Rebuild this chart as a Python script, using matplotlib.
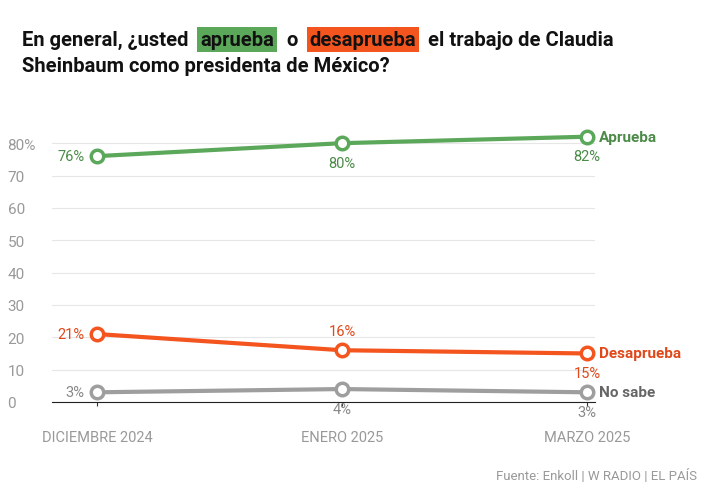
import matplotlib
matplotlib.use("Agg")
import matplotlib.pyplot as plt

cats = ["DICIEMBRE 2024", "ENERO 2025", "MARZO 2025"]
aprueba = [76, 80, 82]
desaprueba = [21, 16, 15]
no_sabe = [3, 4, 3]

GREEN, ORANGE, GRAY = "#5BA85A", "#F4541E", "#9E9E9E"
GREEN_T, ORANGE_T, GRAY_T = "#4B8A47", "#E0481A", "#888888"

plt.rcParams["font.family"] = ["Roboto", "DejaVu Sans"]
fig = plt.figure(figsize=(7.21, 4.89), dpi=100)
ax = fig.add_axes([52/721, 86/489, 543/721, 275/489])
x = range(len(cats))
ax.set_xlim(-0.184, 2.033)
ax.set_ylim(0, 85)

for vals, c in [(aprueba, GREEN), (desaprueba, ORANGE), (no_sabe, GRAY)]:
    ax.plot(x, vals, color=c, lw=3, marker="o", ms=9, mfc="white", mew=2.5, zorder=3, clip_on=False)

ax.set_yticks(range(0, 81, 10))
ax.set_yticklabels([str(v) if v < 80 else "80%" for v in range(0, 81, 10)])
for lab in ax.get_yticklabels():
    lab.set_horizontalalignment("left")
ax.tick_params(axis="y", length=0, pad=32, labelsize=11, labelcolor="#999999")
ax.set_xticks(list(x))
ax.set_xticklabels(cats)
ax.tick_params(axis="x", length=3, color="#333333", pad=17, labelsize=10.5, labelcolor="#999999")
ax.grid(axis="y", color="#e6e6e6", lw=0.8)
ax.set_axisbelow(True)
for s in ["top", "right", "left"]:
    ax.spines[s].set_visible(False)
ax.spines["bottom"].set_color("#222222")

fs = 10.5
def lab(xi, y, t, c, pos):
    if pos == "left":
        ax.annotate(t, (xi, y), xytext=(-9, 0), textcoords="offset points", ha="right", va="center", color=c, fontsize=fs)
    elif pos == "below":
        ax.annotate(t, (xi, y), xytext=(0, -9), textcoords="offset points", ha="center", va="top", color=c, fontsize=fs)
    else:
        ax.annotate(t, (xi, y), xytext=(0, 9), textcoords="offset points", ha="center", va="bottom", color=c, fontsize=fs)

lab(0, aprueba[0], f"{aprueba[0]}%", GREEN_T, "left")
lab(1, aprueba[1], f"{aprueba[1]}%", GREEN_T, "below")
lab(2, aprueba[2], f"{aprueba[2]}%", GREEN_T, "below")
lab(0, desaprueba[0], f"{desaprueba[0]}%", ORANGE_T, "left")
lab(1, desaprueba[1], f"{desaprueba[1]}%", ORANGE_T, "above")
lab(2, desaprueba[2], f"{desaprueba[2]}%", ORANGE_T, "below")
lab(0, no_sabe[0], f"{no_sabe[0]}%", GRAY_T, "left")
lab(1, no_sabe[1], f"{no_sabe[1]}%", GRAY_T, "below")
lab(2, no_sabe[2], f"{no_sabe[2]}%", GRAY_T, "below")

for vals, t, c in [(aprueba, "Aprueba", GREEN_T), (desaprueba, "Desaprueba", ORANGE_T), (no_sabe, "No sabe", "#666666")]:
    ax.annotate(t, (2, vals[-1]), xytext=(9, 0), textcoords="offset points", ha="left", va="center",
                color=c, fontsize=11, fontweight="bold", annotation_clip=False)

# title with highlighted words
fig.canvas.draw()
r = fig.canvas.get_renderer()
tfs = 14.5
SP = 9
def line(parts, y):
    xp = 22
    for t, bg in parts:
        kw = dict(fontsize=tfs, fontweight="bold", color="#111111", va="baseline", ha="left")
        if bg:
            kw["bbox"] = dict(boxstyle="square,pad=0.15", fc=bg, ec="none")
            xp += 3
        txt = fig.text(xp / 721, 1 - y / 489, t, **kw)
        xp += txt.get_window_extent(r).width + SP + (3 if bg else 0)
line([("En general, ¿usted", None), ("aprueba", GREEN), ("o", None), ("desaprueba", ORANGE), ("el trabajo de Claudia", None)], 46)
line([("Sheinbaum como presidenta de México?", None)], 72)

fig.text(697/721, 1 - 476/489, "Fuente: Enkoll | W RADIO | EL PAÍS", ha="right", va="center", fontsize=9.5, color="#999999")
fig.savefig("out.png", dpi=100, facecolor="white")
